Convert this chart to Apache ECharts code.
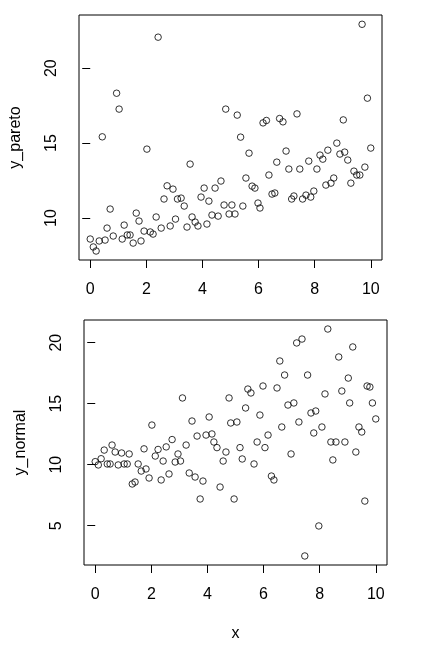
<!DOCTYPE html>
<html>
<head>
<meta charset="utf-8">
<script src="https://cdn.jsdelivr.net/npm/echarts@6/dist/echarts.min.js"></script>
<style>
  html, body { margin: 0; padding: 0; background: #fff; }
  #chart { width: 422px; height: 651px; }
</style>
</head>
<body>
<div id="chart"></div>
<script>
// Valeurs
const xVals = [
  0.0, 0.11, 0.21, 0.32, 0.43, 0.53, 0.6, 0.71, 0.82, 0.94,
  1.03, 1.14, 1.21, 1.32, 1.42, 1.53, 1.64, 1.74, 1.81, 1.92,
  2.02, 2.14, 2.24, 2.35, 2.42, 2.53, 2.63, 2.74, 2.85, 2.95,
  3.04, 3.11, 3.24, 3.35, 3.45, 3.56, 3.63, 3.74, 3.84, 3.95,
  4.06, 4.16, 4.23, 4.34, 4.45, 4.56, 4.66, 4.77, 4.83, 4.95,
  5.05, 5.16, 5.24, 5.36, 5.44, 5.55, 5.66, 5.77, 5.87, 5.98,
  6.05, 6.16, 6.28, 6.37, 6.48, 6.58, 6.65, 6.75, 6.87, 6.98,
  7.08, 7.18, 7.26, 7.37, 7.47, 7.57, 7.69, 7.79, 7.86, 7.97,
  8.08, 8.19, 8.29, 8.4, 8.47, 8.58, 8.68, 8.79, 8.9, 9.02,
  9.07, 9.18, 9.29, 9.4, 9.5, 9.61, 9.69, 9.79, 9.88, 10.0
];

const yPareto = [
  8.6, 8.07, 7.8, 8.47, 15.42, 8.53, 9.33, 10.6, 8.8, 18.33,
  17.27, 8.6, 9.53, 8.87, 8.87, 8.33, 10.33, 9.8, 8.47, 9.13,
  14.6, 9.07, 8.93, 10.07, 22.07, 9.33, 11.27, 12.15, 9.47, 11.93,
  9.93, 11.27, 11.33, 10.8, 9.4, 13.6, 10.07, 9.73, 9.47, 11.4,
  12.0, 9.6, 11.13, 10.2, 12.0, 10.13, 12.47, 10.87, 17.27, 10.27,
  10.87, 10.27, 16.87, 15.4, 10.8, 12.67, 14.33, 12.13, 12.0, 11.0,
  10.67, 16.35, 16.51, 12.87, 11.6, 11.67, 13.73, 16.64, 16.42, 14.47,
  13.27, 11.27, 11.47, 16.95, 13.27, 11.27, 11.53, 13.8, 11.4, 11.8,
  13.27, 14.2, 13.93, 12.2, 14.53, 12.33, 12.67, 15.0, 14.27, 16.55,
  14.4, 13.87, 12.33, 13.13, 12.87, 12.87, 22.93, 13.4, 18.0, 14.67
];

const yNormal = [
  10.25, 9.98, 10.49, 11.2, 10.06, 10.06, 11.61, 11.04, 9.98, 10.96,
  10.06, 10.06, 10.88, 8.42, 8.58, 10.06, 9.48, 11.3, 9.65, 8.91,
  13.25, 10.71, 11.25, 8.75, 10.3, 11.46, 9.24, 12.06, 10.22, 10.88,
  10.3, 15.47, 11.61, 9.32, 13.58, 8.99, 12.35, 7.19, 8.66, 12.43,
  13.91, 12.52, 11.86, 11.4, 8.17, 10.3, 11.04, 15.47, 13.42, 7.19,
  13.5, 11.4, 10.47, 14.65, 16.2, 15.88, 10.06, 11.86, 14.07, 16.45,
  11.4, 12.43, 9.07, 8.75, 16.29, 18.5, 13.09, 17.35, 14.89, 10.88,
  15.06, 19.98, 13.5, 20.3, 2.52, 17.35, 14.24, 12.6, 14.4, 4.98,
  13.09, 15.8, 21.12, 11.86, 10.39, 11.86, 18.83, 16.04, 11.86, 17.1,
  15.06, 19.65, 11.04, 13.09, 12.68, 7.02, 16.45, 16.37, 15.06, 13.75
];

const xTicks = [0, 2, 4, 6, 8, 10];
const paretoTicks = [10, 15, 20];
const normalTicks = [5, 10, 15, 20];

const FONT = 'Liberation Sans, Arial, sans-serif';

function makeXAxis(gridIndex, name) {
  return {
    gridIndex,
    type: 'value',
    min: -0.4,
    max: 10.4,
    name,
    nameLocation: 'middle',
    nameGap: 61,
    nameTextStyle: { fontFamily: FONT, fontSize: 16, color: '#000' },
    axisLine: { show: false },
    splitLine: { show: false },
    axisTick: { show: true, length: 8, customValues: xTicks, lineStyle: { color: '#000', width: 1 } },
    axisLabel: { customValues: xTicks, margin: 22, fontFamily: FONT, fontSize: 16, color: '#000' },
  };
}

function makeYAxis(gridIndex, name, min, max, ticks) {
  return {
    gridIndex,
    type: 'value',
    min,
    max,
    name,
    nameLocation: 'middle',
    nameGap: 55,
    nameTextStyle: { fontFamily: FONT, fontSize: 16, color: '#000' },
    axisLine: { show: false },
    splitLine: { show: false },
    axisTick: { show: true, length: 8, customValues: ticks, lineStyle: { color: '#000', width: 1 } },
    axisLabel: { customValues: ticks, rotate: 90, margin: 19, fontFamily: FONT, fontSize: 16, color: '#000' },
  };
}

function makeScatter(idx, ys) {
  return {
    type: 'scatter',
    xAxisIndex: idx,
    yAxisIndex: idx,
    symbol: 'circle',
    symbolSize: 6.5,
    itemStyle: { color: 'rgba(0,0,0,0)', borderColor: '#000', borderWidth: 1 },
    data: xVals.map((x, i) => [x, ys[i]]),
  };
}

const chart = echarts.init(document.getElementById('chart'));
chart.setOption({
  animation: false,
  backgroundColor: '#fff',
  grid: [
    { left: 78, top: 15, width: 304, height: 245, show: true, borderColor: '#000', borderWidth: 1, backgroundColor: 'transparent' },
    { left: 84, top: 320, width: 303, height: 245, show: true, borderColor: '#000', borderWidth: 1, backgroundColor: 'transparent' },
  ],
  xAxis: [makeXAxis(0, ''), makeXAxis(1, 'x')],
  yAxis: [
    makeYAxis(0, 'y_pareto', 7.2, 23.55, paretoTicks),
    makeYAxis(1, 'y_normal', 1.78, 21.86, normalTicks),
  ],
  series: [makeScatter(0, yPareto), makeScatter(1, yNormal)],
});
</script>
</body>
</html>
